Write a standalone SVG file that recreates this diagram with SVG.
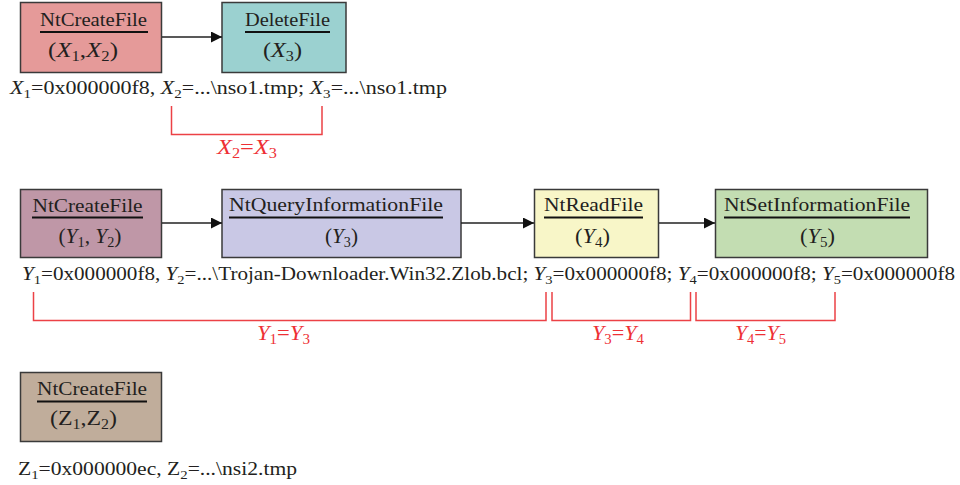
<svg xmlns="http://www.w3.org/2000/svg" width="960" height="485" viewBox="0 0 960 485">
<style>
text{font-family:"Liberation Serif","Times New Roman",serif;font-size:19px;fill:#231f20}
.t{text-anchor:middle}
.p{font-size:21px}
.p .sub{font-size:14px}
.box{stroke:#3a3a3a;stroke-width:1.5}
.ul{stroke:#111;stroke-width:2}
.sub{font-size:13px}
.i{font-style:italic}
.red{fill:#ee3035;font-size:21px}
.red .sub{font-size:14px}
.br{fill:none;stroke:#ec4146;stroke-width:1.5}
.conn{stroke:#222;stroke-width:1.5;fill:none}
</style>
<defs>
<marker id="ah" markerWidth="11" markerHeight="11" refX="11" refY="5.5" orient="auto" markerUnits="userSpaceOnUse">
<path d="M0,0 L11,5.5 L0,11 Z" fill="#111"/>
</marker>
</defs>
<rect width="960" height="485" fill="#fff"/>

<g id="x-ntcreatefile">
<rect class="box" x="20.5" y="2.5" width="141" height="70" fill="#e59a99"/>
<text class="t" x="93.5" y="26" textLength="107" lengthAdjust="spacingAndGlyphs">NtCreateFile</text>
<line class="ul" x1="40" y1="32" x2="148" y2="32"/>
<text class="t p" x="83" y="57" textLength="70" lengthAdjust="spacingAndGlyphs">(<tspan class="i">X</tspan><tspan class="sub" dy="4">1</tspan><tspan dy="-4">,</tspan><tspan class="i">X</tspan><tspan class="sub" dy="4">2</tspan><tspan dy="-4">)</tspan></text>
</g>
<g id="x-deletefile">
<rect class="box" x="222" y="2.5" width="124" height="70" fill="#9bd1d0"/>
<text class="t" x="287.5" y="26" textLength="85" lengthAdjust="spacingAndGlyphs">DeleteFile</text>
<line class="ul" x1="245" y1="32" x2="330" y2="32"/>
<text class="t p" x="282.5" y="57" textLength="39" lengthAdjust="spacingAndGlyphs">(<tspan class="i">X</tspan><tspan class="sub" dy="4">3</tspan><tspan dy="-4">)</tspan></text>
</g>
<text x="10" y="94" textLength="437" lengthAdjust="spacingAndGlyphs"><tspan class="i">X</tspan><tspan class="sub" dy="4">1</tspan><tspan dy="-4">=0x000000f8, </tspan><tspan class="i">X</tspan><tspan class="sub" dy="4">2</tspan><tspan dy="-4">=...\nso1.tmp; </tspan><tspan class="i">X</tspan><tspan class="sub" dy="4">3</tspan><tspan dy="-4">=...\nso1.tmp</tspan></text>

<g id="y-ntcreatefile">
<rect class="box" x="20.5" y="189.5" width="141" height="68" fill="#bf97a7"/>
<text class="t" x="87.5" y="212" textLength="110" lengthAdjust="spacingAndGlyphs">NtCreateFile</text>
<line class="ul" x1="32" y1="217.5" x2="143" y2="217.5"/>
<text class="t p" x="90" y="243" textLength="63" lengthAdjust="spacingAndGlyphs">(<tspan class="i">Y</tspan><tspan class="sub" dy="4">1</tspan><tspan dy="-4">, </tspan><tspan class="i">Y</tspan><tspan class="sub" dy="4">2</tspan><tspan dy="-4">)</tspan></text>
</g>
<g id="y-ntqueryinformationfile">
<rect class="box" x="222" y="189.5" width="239" height="68" fill="#c9c8e5"/>
<text class="t" x="336" y="211" textLength="214" lengthAdjust="spacingAndGlyphs">NtQueryInformationFile</text>
<line class="ul" x1="229" y1="217.5" x2="443" y2="217.5"/>
<text class="t p" x="341.5" y="243" textLength="33" lengthAdjust="spacingAndGlyphs">(<tspan class="i">Y</tspan><tspan class="sub" dy="4">3</tspan><tspan dy="-4">)</tspan></text>
</g>
<g id="y-ntreadfile">
<rect class="box" x="534.5" y="189.5" width="124" height="68" fill="#f8f6c8"/>
<text class="t" x="593.5" y="211" textLength="99" lengthAdjust="spacingAndGlyphs">NtReadFile</text>
<line class="ul" x1="544" y1="217.5" x2="643" y2="217.5"/>
<text class="t p" x="592.5" y="243" textLength="35" lengthAdjust="spacingAndGlyphs">(<tspan class="i">Y</tspan><tspan class="sub" dy="4">4</tspan><tspan dy="-4">)</tspan></text>
</g>
<g id="y-ntsetinformationfile">
<rect class="box" x="715.5" y="189.5" width="212" height="68" fill="#c3ddb2"/>
<text class="t" x="817" y="211" textLength="186" lengthAdjust="spacingAndGlyphs">NtSetInformationFile</text>
<line class="ul" x1="724" y1="217.5" x2="910" y2="217.5"/>
<text class="t p" x="817.5" y="243" textLength="35" lengthAdjust="spacingAndGlyphs">(<tspan class="i">Y</tspan><tspan class="sub" dy="4">5</tspan><tspan dy="-4">)</tspan></text>
</g>
<text x="22" y="280" textLength="933" lengthAdjust="spacingAndGlyphs"><tspan class="i">Y</tspan><tspan class="sub" dy="4">1</tspan><tspan dy="-4">=0x000000f8, </tspan><tspan class="i">Y</tspan><tspan class="sub" dy="4">2</tspan><tspan dy="-4">=...\Trojan-Downloader.Win32.Zlob.bcl; </tspan><tspan class="i">Y</tspan><tspan class="sub" dy="4">3</tspan><tspan dy="-4">=0x000000f8; </tspan><tspan class="i">Y</tspan><tspan class="sub" dy="4">4</tspan><tspan dy="-4">=0x000000f8; </tspan><tspan class="i">Y</tspan><tspan class="sub" dy="4">5</tspan><tspan dy="-4">=0x000000f8</tspan></text>

<g id="z-ntcreatefile">
<rect class="box" x="20.5" y="372.5" width="141" height="69" fill="#c0ad9b"/>
<text class="t" x="92" y="395" textLength="110" lengthAdjust="spacingAndGlyphs">NtCreateFile</text>
<line class="ul" x1="37" y1="401.5" x2="147" y2="401.5"/>
<text class="t p" x="83.5" y="425" textLength="67" lengthAdjust="spacingAndGlyphs">(Z<tspan class="sub" dy="4">1</tspan><tspan dy="-4">,Z</tspan><tspan class="sub" dy="4">2</tspan><tspan dy="-4">)</tspan></text>
</g>
<text x="18" y="475" textLength="279" lengthAdjust="spacingAndGlyphs">Z<tspan class="sub" dy="4">1</tspan><tspan dy="-4">=0x000000ec, Z</tspan><tspan class="sub" dy="4">2</tspan><tspan dy="-4">=...\nsi2.tmp</tspan></text>

<g id="connectors">
<line class="conn" x1="162" y1="37" x2="222" y2="37" marker-end="url(#ah)"/>
<line class="conn" x1="162" y1="223" x2="222" y2="223" marker-end="url(#ah)"/>
<line class="conn" x1="461" y1="223" x2="534" y2="223" marker-end="url(#ah)"/>
<line class="conn" x1="659" y1="223" x2="715" y2="223" marker-end="url(#ah)"/>
</g>

<g id="equalities">
<polyline class="br" points="171.5,106 171.5,134.5 322,134.5 322,106"/>
<text class="t red" x="247" y="154" textLength="60" lengthAdjust="spacingAndGlyphs"><tspan class="i">X</tspan><tspan class="sub" dy="4">2</tspan><tspan dy="-4">=</tspan><tspan class="i">X</tspan><tspan class="sub" dy="4">3</tspan></text>
<polyline class="br" points="33.5,292 33.5,320.5 546,320.5 546,292"/>
<text class="t red" x="283.5" y="340" textLength="53" lengthAdjust="spacingAndGlyphs"><tspan class="i">Y</tspan><tspan class="sub" dy="4">1</tspan><tspan dy="-4">=</tspan><tspan class="i">Y</tspan><tspan class="sub" dy="4">3</tspan></text>
<polyline class="br" points="552,292 552,320.5 690.5,320.5 690.5,292"/>
<text class="t red" x="618" y="340" textLength="52" lengthAdjust="spacingAndGlyphs"><tspan class="i">Y</tspan><tspan class="sub" dy="4">3</tspan><tspan dy="-4">=</tspan><tspan class="i">Y</tspan><tspan class="sub" dy="4">4</tspan></text>
<polyline class="br" points="696,292 696,320.5 835,320.5 835,292"/>
<text class="t red" x="760.5" y="340" textLength="51" lengthAdjust="spacingAndGlyphs"><tspan class="i">Y</tspan><tspan class="sub" dy="4">4</tspan><tspan dy="-4">=</tspan><tspan class="i">Y</tspan><tspan class="sub" dy="4">5</tspan></text>
</g>
</svg>
